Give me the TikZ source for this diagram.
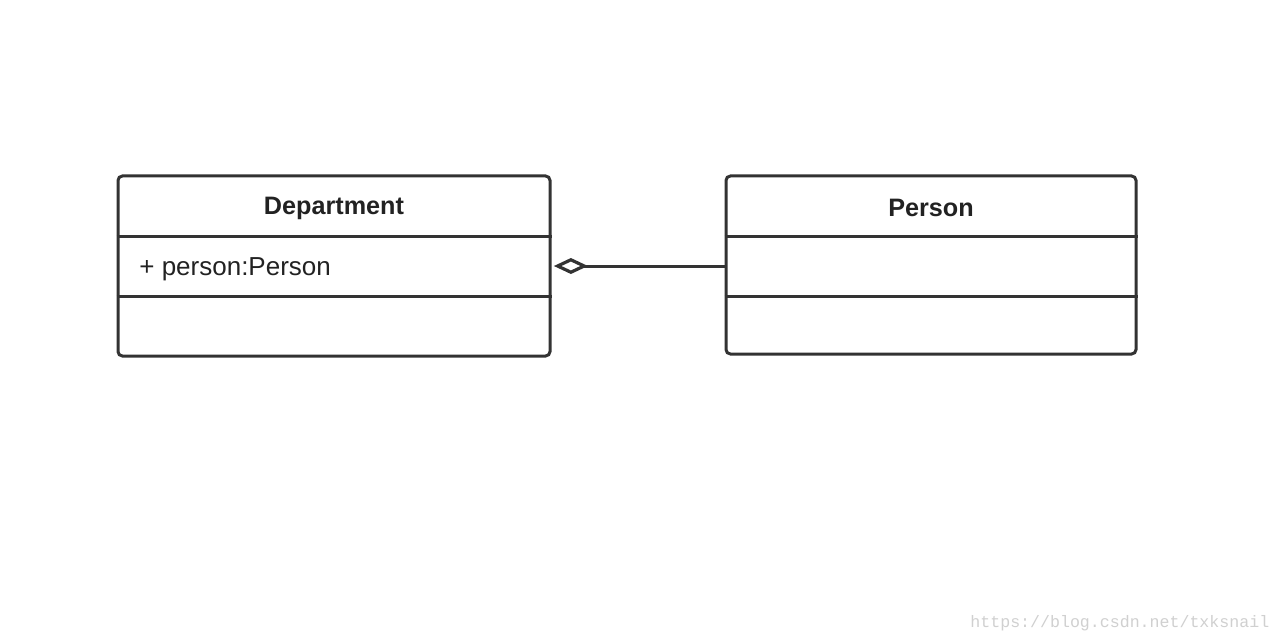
\documentclass[tikz,border=0pt]{standalone}
\usepackage{fontspec}
\setmainfont{Liberation Sans}
\newfontfamily\wmfont{Liberation Mono}
\usetikzlibrary{arrows.meta}
\definecolor{ink}{HTML}{333333}
\definecolor{txt}{HTML}{222222}
\definecolor{wm}{HTML}{D0D0D0}
\tikzset{
  classbox/.style={draw=ink, line width=1.5pt, rounded corners=2.2pt, inner sep=0pt, fill=white},
  divider/.style={draw=ink, line width=1.5pt},
  titletext/.style={font=\fontsize{12.6}{14}\selectfont\bfseries, text=txt, inner sep=0pt, anchor=base},
  attrtext/.style={font=\fontsize{13}{15}\selectfont, text=txt, inner sep=0pt, anchor=base west},
  aggr/.style={draw=ink, line width=1.5pt, -{Diamond[open, length=17pt, width=8pt, line width=1.6pt]}},
}
\begin{document}
\begin{tikzpicture}[x=0.5pt, y=-0.5pt]
\useasboundingbox[fill=white] (0,0) rectangle (1280,642);
% Department
\node[classbox, minimum width=216pt, minimum height=90pt] (dept) at (334,266) {};
\draw[divider] (dept.west |- 0,236) coordinate (d1a) -- (dept.east |- 0,236) coordinate (d1b);
\draw[divider] (dept.west |- 0,296) coordinate (d2a) -- (dept.east |- 0,296) coordinate (d2b);
\node[titletext] (depttitle) at (334,214) {Department};
\node[attrtext] (deptattr) at (139,275) {+ person:Person};
% Person
\node[classbox, minimum width=205pt, minimum height=89pt] (person) at (931,265) {};
\draw[divider] (person.west |- 0,236) coordinate (p1a) -- (person.east |- 0,236) coordinate (p1b);
\draw[divider] (person.west |- 0,296) coordinate (p2a) -- (person.east |- 0,296) coordinate (p2b);
\node[titletext] (persontitle) at (931,216) {Person};
% aggregation
\draw[aggr] (person.west |- dept.east) -- ([xshift=1.2pt]dept.east);
% watermark
\node[font=\wmfont\fontsize{8.3}{10}\selectfont, text=wm, anchor=base west, inner sep=0pt] (wmark) at (970,627) {https://blog.csdn.net/txksnail};
\end{tikzpicture}
\end{document}
